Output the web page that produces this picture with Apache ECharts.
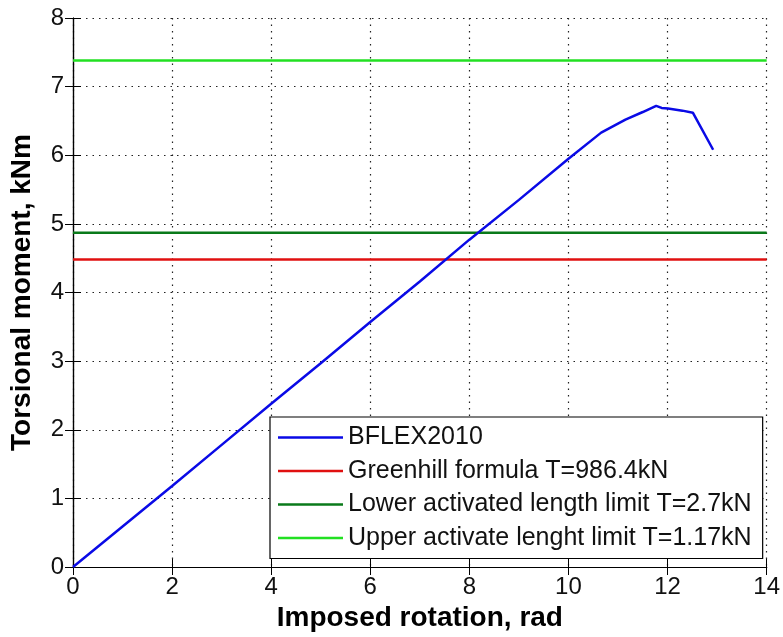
<!DOCTYPE html>
<html>
<head>
<meta charset="utf-8">
<script src="https://cdn.jsdelivr.net/npm/echarts@6/dist/echarts.min.js"></script>
<style>
  html, body { margin: 0; padding: 0; background: #ffffff; }
  #chart { width: 783px; height: 637px; }
</style>
</head>
<body>
<div id="chart"></div>
<script>
// Imposed rotation (rad) and torsional moment (kNm) from the BFLEX2010 run
const rotation = [0, 1, 2, 3, 4, 5, 6, 7, 8, 9, 10, 10.66, 11.15, 11.5, 11.77, 11.88, 12.01, 12.3, 12.51, 12.92];
const moment   = [0, 0.59, 1.18, 1.78, 2.38, 2.97, 3.57, 4.16, 4.77, 5.35, 5.95, 6.33, 6.52, 6.63, 6.72, 6.69, 6.68, 6.65, 6.62, 6.08];

// Constant reference levels (kNm)
const greenhillLevel = 4.48;
const lowerLimitLevel = 4.87;
const upperLimitLevel = 7.38;

const xRange = [0, 14];
const yRange = [0, 8];

const seriesNames = [
  'BFLEX2010',
  'Greenhill formula T=986.4kN',
  'Lower activated length limit T=2.7kN',
  'Upper activate lenght limit T=1.17kN'
];
const seriesColors = ['#0a0ae6', '#e01010', '#0a7a1a', '#22e022'];

const FONT = 'Liberation Sans, Arial, sans-serif';

function levelLine(v) {
  return [[xRange[0], v], [xRange[1], v]];
}

const chart = echarts.init(document.getElementById('chart'), null, { renderer: 'canvas' });

const tickStyle = { show: true, inside: true, length: 8, lineStyle: { color: '#000', width: 1 } };
const lineAxis = { show: true, lineStyle: { color: '#000', width: 1.2 } };
const gridSplit = { show: true, lineStyle: { color: '#222', width: 1.2, type: [1.5, 5] } };

chart.setOption({
  backgroundColor: '#ffffff',
  animation: false,
  grid: { left: 73, right: 14, top: 18, bottom: 70, containLabel: false },
  xAxis: [
    {
      type: 'value', min: xRange[0], max: xRange[1], interval: 2,
      position: 'bottom',
      axisLine: lineAxis, axisTick: tickStyle, splitLine: gridSplit,
      axisLabel: { color: '#111', fontFamily: FONT, fontSize: 24, margin: 8 },
      name: 'Imposed rotation, rad', nameLocation: 'middle', nameGap: 29,
      nameTextStyle: { color: '#000', fontFamily: FONT, fontSize: 28, fontWeight: 'bold' }
    },
    {
      type: 'value', min: xRange[0], max: xRange[1], interval: 2,
      position: 'top',
      axisLine: lineAxis, axisTick: tickStyle, splitLine: { show: false },
      axisLabel: { show: false }
    }
  ],
  yAxis: [
    {
      type: 'value', min: yRange[0], max: yRange[1], interval: 1,
      position: 'left',
      axisLine: lineAxis, axisTick: tickStyle, splitLine: gridSplit,
      axisLabel: { color: '#111', fontFamily: FONT, fontSize: 24, margin: 9 },
      name: 'Torsional moment, kNm', nameLocation: 'middle', nameGap: 37,
      nameTextStyle: { color: '#000', fontFamily: FONT, fontSize: 28, fontWeight: 'bold' }
    },
    {
      type: 'value', min: yRange[0], max: yRange[1], interval: 1,
      position: 'right',
      axisLine: lineAxis, axisTick: tickStyle, splitLine: { show: false },
      axisLabel: { show: false }
    }
  ],
  legend: {
    orient: 'vertical',
    left: 270, top: 417,
    padding: [8, 11, 8, 8],
    itemGap: 8.5,
    itemWidth: 65, itemHeight: 2.5,
    itemStyle: { borderWidth: 0 },
    icon: 'rect',
    backgroundColor: '#ffffff',
    borderColor: '#000', borderWidth: 1.2, borderRadius: 0,
    textStyle: { color: '#111', fontFamily: FONT, fontSize: 25, lineHeight: 25, padding: [0, 0, 0, 0] },
    data: seriesNames
  },
  series: [
    {
      name: seriesNames[0], type: 'line', xAxisIndex: 0, yAxisIndex: 0,
      data: rotation.map((r, i) => [r, moment[i]]),
      symbol: 'none', lineStyle: { color: seriesColors[0], width: 2.5 },
      itemStyle: { color: seriesColors[0] }, z: 5
    },
    {
      name: seriesNames[1], type: 'line', xAxisIndex: 0, yAxisIndex: 0,
      data: levelLine(greenhillLevel),
      symbol: 'none', lineStyle: { color: seriesColors[1], width: 2.5 },
      itemStyle: { color: seriesColors[1] }
    },
    {
      name: seriesNames[2], type: 'line', xAxisIndex: 0, yAxisIndex: 0,
      data: levelLine(lowerLimitLevel),
      symbol: 'none', lineStyle: { color: seriesColors[2], width: 2.5 },
      itemStyle: { color: seriesColors[2] }
    },
    {
      name: seriesNames[3], type: 'line', xAxisIndex: 0, yAxisIndex: 0,
      data: levelLine(upperLimitLevel),
      symbol: 'none', lineStyle: { color: seriesColors[3], width: 2.5 },
      itemStyle: { color: seriesColors[3] }
    }
  ]
});
</script>
</body>
</html>
